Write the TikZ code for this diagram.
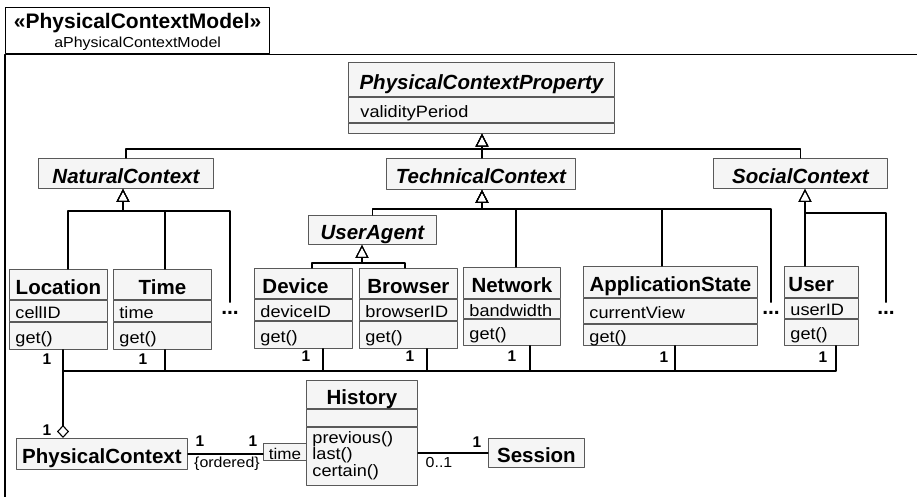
\documentclass[tikz,border=0pt]{standalone}
\usepackage{fontspec}
\setmainfont{Liberation Sans}
\newfontfamily\attrfont[FakeStretch=1.1]{Liberation Sans}
\usetikzlibrary{arrows.meta,positioning}

\tikzset{
  ttl/.style={draw=black!65, fill=black!4, line width=0.9pt, anchor=north west, inner sep=0pt,
    text height=20pt, text depth=0pt, font=\bfseries\fontsize{20.5}{20.5}\selectfont},
  abstr/.style={ttl, font=\bfseries\itshape\fontsize{20.5}{20.5}\selectfont},
  att/.style={draw=black!65, fill=black!4, line width=0.9pt, inner ysep=0pt, inner xsep=6pt,
    align=left, text height=17pt, text depth=2pt, font=\attrfont\fontsize{16.5}{16.5}\selectfont},
  emp/.style={draw=black!65, fill=black!4, line width=0.9pt, inner sep=0pt},
  qual/.style={draw=black!65, fill=black!4, line width=0.9pt, anchor=north west, inner sep=0pt,
    text height=15pt, text depth=0pt, font=\attrfont\fontsize{15.5}{15.5}\selectfont},
  gen/.style={line width=1.1pt, -{Triangle[open, length=13pt, width=13pt]}},
  agg/.style={line width=1.1pt, -{Diamond[open, length=13pt, width=12pt]}},
  assoc/.style={line width=1.1pt},
  mult/.style={inner sep=0pt, font=\bfseries\fontsize{15.5}{15.5}\selectfont},
  note/.style={inner sep=0pt, font=\attrfont\fontsize{14.5}{14.5}\selectfont},
  more/.style={inner xsep=0pt, inner ysep=9pt, font=\bfseries\fontsize{21}{21}\selectfont},
}

\begin{document}
\begin{tikzpicture}[x=1pt, y=-1pt, line cap=round, line join=round]
  \useasboundingbox (0,0) rectangle (917,496);

  % package frame with its name tab
  \node[draw, line width=1.2pt, anchor=north west, minimum width=264, minimum height=46,
    inner sep=0pt, align=center, text depth=0pt, font=\attrfont\fontsize{14.5}{19}\selectfont]
    (tab) at (5,7) {{\normalfont\bfseries\fontsize{21}{19}\selectfont «PhysicalContextModel»}\\aPhysicalContextModel};
  \draw[line width=1.2pt] (tab.west |- 0,500) -- (tab.south west) -- (tab.south west -| 920,0);

  % abstract classes
  \node[abstr, minimum width=266, minimum height=34] (pcp) at (348,62) {PhysicalContextProperty};
  \node[att, text width=242pt, inner xsep=12pt, minimum height=25, below=0pt of pcp] (pcpA) {validityPeriod};
  \node[emp, minimum width=266, minimum height=10, below=0pt of pcpA] (pcpO) {};

  \node[abstr, minimum width=175, minimum height=30] (nat) at (38,158) {NaturalContext};
  \node[abstr, minimum width=189, minimum height=31] (tech) at (386,158) {TechnicalContext};
  \node[abstr, minimum width=174, minimum height=30] (soc) at (713,158) {SocialContext};
  \node[abstr, minimum width=128, minimum height=29] (ua) at (308,215) {UserAgent};

  % concrete properties
  \node[ttl, minimum width=98, minimum height=30] (loc) at (9,269) {Location};
  \node[att, text width=86pt, minimum height=21, below=0pt of loc] (locA) {cellID};
  \node[att, text width=86pt, minimum height=27, below=0pt of locA] (locO) {get()};

  \node[ttl, minimum width=98, minimum height=30] (time) at (113,269) {Time};
  \node[att, text width=86pt, minimum height=21, below=0pt of time] (timeA) {time};
  \node[att, text width=86pt, minimum height=27, below=0pt of timeA] (timeO) {get()};

  \node[ttl, text width=82pt, inner xsep=8pt, align=left, minimum height=30] (dev) at (254,268) {Device};
  \node[att, text width=86pt, minimum height=21, below=0pt of dev] (devA) {deviceID};
  \node[att, text width=86pt, minimum height=27, below=0pt of devA] (devO) {get()};

  \node[ttl, minimum width=98, minimum height=30] (brw) at (359,268) {Browser};
  \node[att, text width=86pt, minimum height=21, below=0pt of brw] (brwA) {browserID};
  \node[att, text width=86pt, minimum height=27, below=0pt of brwA] (brwO) {get()};

  \node[ttl, minimum width=97, minimum height=31] (net) at (463,267) {Network};
  \node[att, text width=85pt, minimum height=19, below=0pt of net] (netA) {bandwidth};
  \node[att, text width=85pt, minimum height=26, below=0pt of netA] (netO) {get()};

  \node[ttl, minimum width=174, minimum height=31] (app) at (583,266) {ApplicationState};
  \node[att, text width=162pt, minimum height=25, below=0pt of app] (appA) {currentView};
  \node[att, text width=162pt, minimum height=21, below=0pt of appA] (appO) {get()};

  \node[ttl, text width=66pt, inner xsep=4pt, align=left, minimum height=31] (usr) at (784,266) {User};
  \node[att, text width=62pt, minimum height=20, below=0pt of usr] (usrA) {userID};
  \node[att, text width=62pt, minimum height=26, below=0pt of usrA] (usrO) {get()};

  \node[more] (natmore) at (230,313) {...};
  \node[more] (techmore) at (771,313) {...};
  \node[more] (socmore) at (886,313) {...};

  % context, history and session
  \node[ttl, minimum width=171, minimum height=31] (pc) at (16,438) {PhysicalContext};
  \node[ttl, minimum width=111, minimum height=28] (hist) at (306,380) {History};
  \node[emp, minimum width=111, minimum height=17, below=0pt of hist] (histA) {};
  \node[att, text width=99pt, minimum height=58, text height=12pt, text depth=38pt,
    font=\attrfont\fontsize{16.5}{14}\selectfont, below=0pt of histA] (histO) {previous()\\last()\\certain()};
  \node[qual, minimum width=43, minimum height=17] (tq) at (263,443) {time};
  \node[ttl, minimum width=96, minimum height=29] (ses) at (488,438) {Session};

  % generalisations
  \coordinate (pcpJ) at (482,149);
  \coordinate (natJ) at (123,211);
  \coordinate (techJ) at (482,209);
  \coordinate (uaJ) at (362,263);
  \coordinate (socJ) at (805,213);

  \draw[gen] (nat.north) |- (pcpJ) -- (pcpJ |- pcpO.south);
  \draw[gen] (pcpJ |- tech.north) -- (pcpJ |- pcpO.south);
  \draw[gen] (soc.north) |- (pcpJ) -- (pcpJ |- pcpO.south);

  \draw[gen] (68,0 |- loc.north) |- (natJ) -- (natJ |- nat.south);
  \draw[gen] (165,0 |- time.north) |- (natJ) -- (natJ |- nat.south);
  \draw[gen] (natmore.north) |- (natJ) -- (natJ |- nat.south);

  \draw[gen] (ua.north) |- (techJ) -- (techJ |- tech.south);
  \draw[gen] (516,0 |- net.north) |- (techJ) -- (techJ |- tech.south);
  \draw[gen] (662,0 |- app.north) |- (techJ) -- (techJ |- tech.south);
  \draw[gen] (techmore.north) |- (techJ) -- (techJ |- tech.south);

  \draw[gen] (312,0 |- dev.north) |- (uaJ) -- (uaJ |- ua.south);
  \draw[gen] (405,0 |- brw.north) |- (uaJ) -- (uaJ |- ua.south);

  \draw[gen] (socJ |- usr.north) -- (socJ |- soc.south);
  \draw[gen] (socmore.north) |- (socJ) -- (socJ |- soc.south);

  % aggregation into the physical context
  \coordinate (aggJ) at (63,371);
  \draw[agg] (aggJ |- locO.south) -- (aggJ |- pc.north);
  \draw[assoc] (165,0 |- timeO.south) |- (aggJ);
  \draw[assoc] (323,0 |- devO.south) |- (aggJ);
  \draw[assoc] (427,0 |- brwO.south) |- (aggJ);
  \draw[assoc] (530,0 |- netO.south) |- (aggJ);
  \draw[assoc] (675,0 |- appO.south) |- (aggJ);
  \draw[assoc] (836,0 |- usrO.south) |- (aggJ);

  \draw[assoc] (pc.east) -- (pc.east -| tq.west);
  \draw[assoc] (histO.east |- ses.west) -- (ses.west);

  % multiplicities
  \node[mult] (locM) at (47,359) {1};
  \node[mult] (timeM) at (143,359) {1};
  \node[mult] (devM) at (306,356) {1};
  \node[mult] (brwM) at (410,356) {1};
  \node[mult] (netM) at (512,356) {1};
  \node[mult] (appM) at (664,357) {1};
  \node[mult] (usrM) at (823,357) {1};
  \node[mult] (pcM) at (47,430) {1};
  \node[mult] (pcR) at (200,441) {1};
  \node[mult] (tqM) at (253,441) {1};
  \node[note] (ordM) at (227,464) {\{ordered\}};
  \node[mult] (sesM) at (477,442) {1};
  \node[note] (histM) at (439,462) {0..1};
\end{tikzpicture}
\end{document}
